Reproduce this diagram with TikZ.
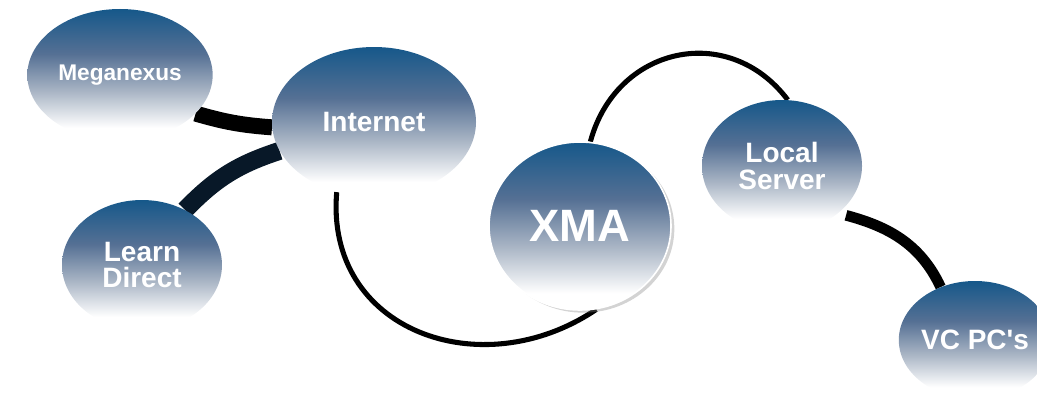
\documentclass[tikz,border=0pt]{standalone}
\usepackage{fontspec}
\setmainfont{Liberation Sans}
\usetikzlibrary{shapes,arrows,positioning,backgrounds,shadows}
\definecolor{bubtop}{RGB}{22,88,138}
\definecolor{bubhi}{RGB}{85,112,148}
\definecolor{bubmid}{RGB}{168,180,196}
\definecolor{navy}{RGB}{8,24,40}
\pgfdeclareverticalshading{bubble}{100bp}{color(0bp)=(white); color(30bp)=(white); color(44bp)=(bubmid); color(58bp)=(bubhi); color(75bp)=(bubtop); color(100bp)=(bubtop)}

\begin{document}
\begin{tikzpicture}[x=0.75pt,y=0.75pt,
        bubble/.style={ellipse, shading=bubble, inner sep=0pt, text=white,
            font=\bfseries\fontsize{21}{20}\selectfont, align=center},
        link/.style={line width=3.8pt, black},
        band/.style={line width=12pt, black}]
        \useasboundingbox (0,0) rectangle (1037,401);
        \node[bubble, minimum width=139pt, minimum height=99pt,
            font=\bfseries\fontsize{17}{17}\selectfont] (mega) at (120,326) {Meganexus};
        \node[bubble, minimum width=153pt, minimum height=112.5pt] (inet) at (374,279) {Internet};
        \node[bubble, minimum width=120pt, minimum height=97.5pt] (learn) at (142,136) {Learn\\Direct};
        \node[bubble, minimum width=136.5pt, minimum height=126pt, draw=white, line width=1.2pt,
            drop shadow={shadow xshift=2.5pt, shadow yshift=-2pt, opacity=.35},
            font=\bfseries\fontsize{34}{34}\selectfont] (xma) at (580,175) {XMA};
        \node[bubble, minimum width=120pt, minimum height=99pt] (local) at (782,235) {Local\\Server};
        \node[bubble, minimum width=105pt, minimum height=88.5pt] (vc) at (975,61) {VC PC\textquotesingle s};
        \begin{scope}[on background layer]
            \draw[band] (mega.-27) to[bend right=6] (inet.183);
            \draw[band, navy, line width=13.5pt] (learn.52) to[bend left=14] (inet.197);
            \draw[link] (inet.242) to[out=-95, in=-146, looseness=1.25] (xma.281);
            \draw[link] (xma.83) to[out=75, in=127, looseness=1.25] (local.85);
            \draw[link, line width=8pt, shorten <=6pt] (local.-40) to[out=-15, in=115] (vc.123);
        \end{scope}
\end{tikzpicture}
\end{document}
